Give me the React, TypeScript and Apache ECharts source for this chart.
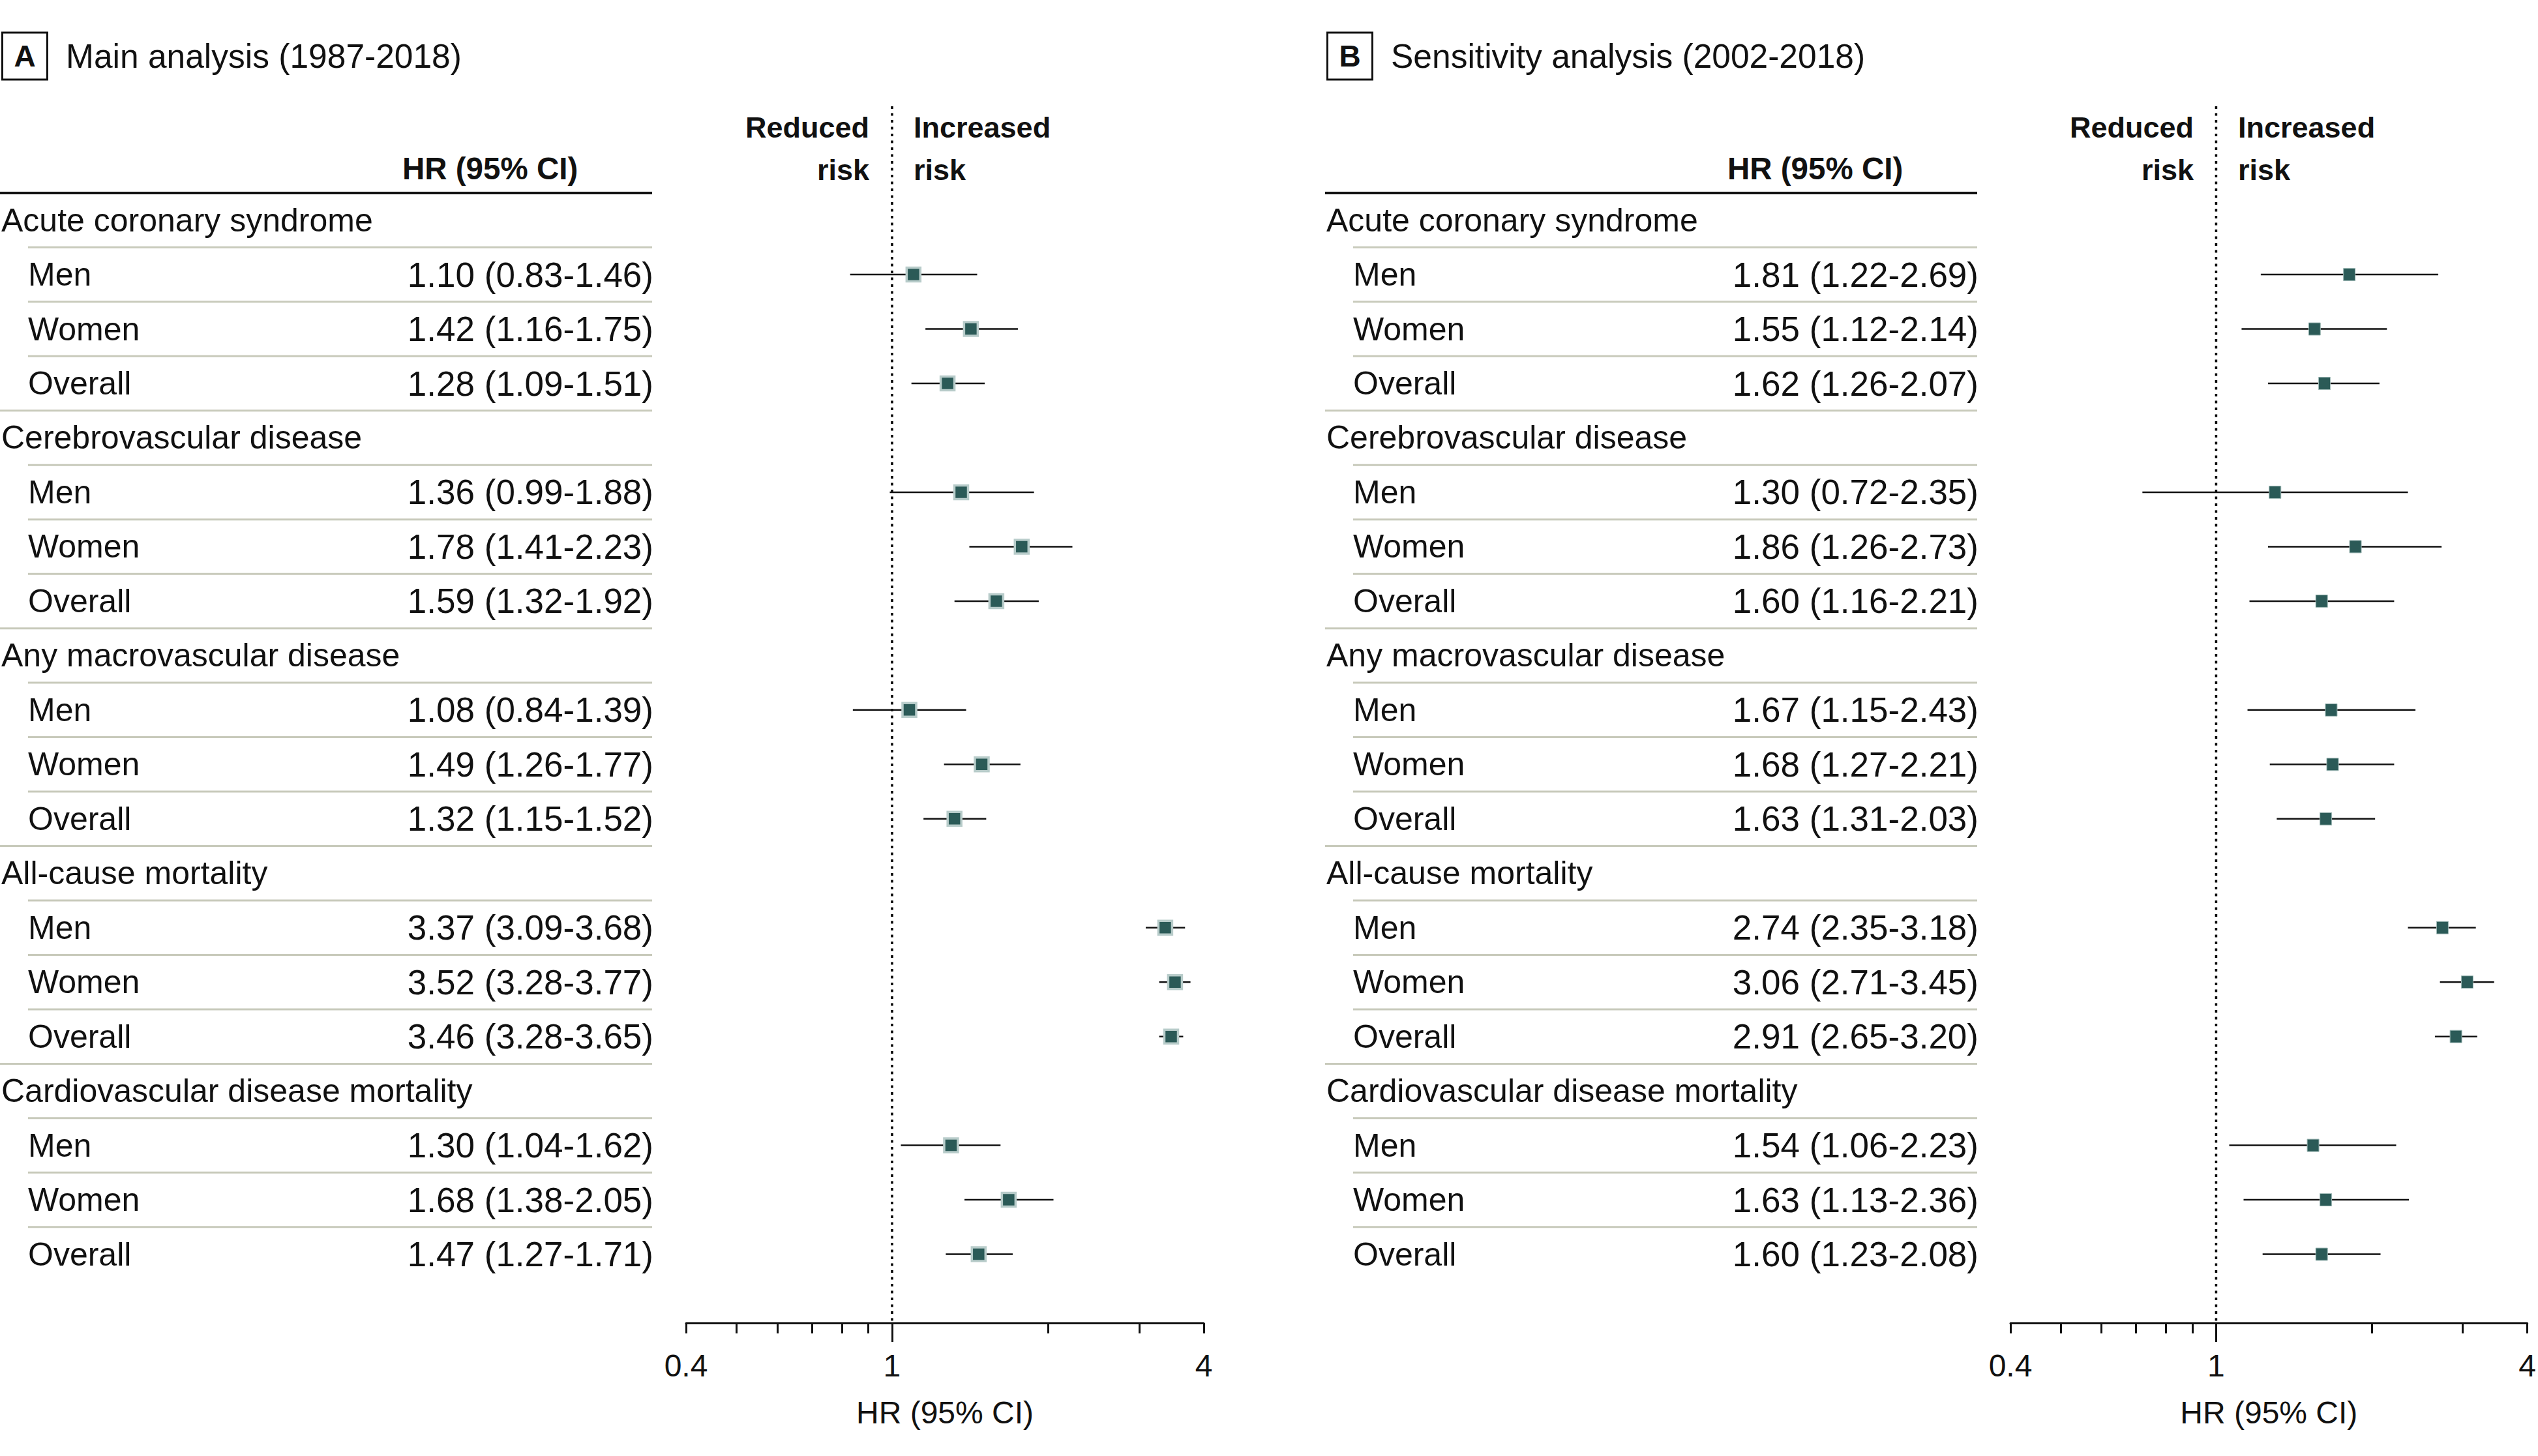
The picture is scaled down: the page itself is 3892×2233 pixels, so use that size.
import React, { useEffect, useRef } from "react";
import * as echarts from "echarts";

// ---------------- DATA ----------------
const groups = [
  "Acute coronary syndrome",
  "Cerebrovascular disease",
  "Any macrovascular disease",
  "All-cause mortality",
  "Cardiovascular disease mortality",
];
const subgroups = ["Men", "Women", "Overall"];

// Panel A: Main analysis (1987-2018)
const mainHR = [1.10, 1.42, 1.28, 1.36, 1.78, 1.59, 1.08, 1.49, 1.32, 3.37, 3.52, 3.46, 1.30, 1.68, 1.47];
const mainLow = [0.83, 1.16, 1.09, 0.99, 1.41, 1.32, 0.84, 1.26, 1.15, 3.09, 3.28, 3.28, 1.04, 1.38, 1.27];
const mainHigh = [1.46, 1.75, 1.51, 1.88, 2.23, 1.92, 1.39, 1.77, 1.52, 3.68, 3.77, 3.65, 1.62, 2.05, 1.71];

// Panel B: Sensitivity analysis (2002-2018)
const sensHR = [1.81, 1.55, 1.62, 1.30, 1.86, 1.60, 1.67, 1.68, 1.63, 2.74, 3.06, 2.91, 1.54, 1.63, 1.60];
const sensLow = [1.22, 1.12, 1.26, 0.72, 1.26, 1.16, 1.15, 1.27, 1.31, 2.35, 2.71, 2.65, 1.06, 1.13, 1.23];
const sensHigh = [2.69, 2.14, 2.07, 2.35, 2.73, 2.21, 2.43, 2.21, 2.03, 3.18, 3.45, 3.20, 2.23, 2.36, 2.08];

const tickValues = [0.4, 0.5, 0.6, 0.7, 0.8, 0.9, 1, 2, 3, 4];
const tickLabelValues = [0.4, 1, 4];
const referenceValues = [1];
const axisMin = 0.4;
const axisMax = 4;

const panelLetters = ["A", "B"];
const panelTitles = ["Main analysis (1987-2018)", "Sensitivity analysis (2002-2018)"];
const columnHeader = "HR (95% CI)";
const axisTitle = "HR (95% CI)";
const leftLabel = ["Reduced", "risk"];
const rightLabel = ["Increased", "risk"];

// ---------------- LAYOUT ----------------
const W = 3892;
const H = 2233;
const FONT = "'Liberation Sans', Arial, sans-serif";
const INK = "#111111";
const ROW0 = 337.6;
const PITCH = 83.47;
const GRID_TOP = 163;
const GRID_BOTTOM_Y = 2029;
const Y_MIN = (GRID_TOP - ROW0) / PITCH;
const Y_MAX = (GRID_BOTTOM_Y - ROW0) / PITCH;

const panels = [
  { tableX: 0, gridLeft: 1052, gridWidth: 794, hr: mainHR, lo: mainLow, hi: mainHigh, halo: true, refX: 1367 },
  { tableX: 2032, gridLeft: 3083, gridWidth: 795, hr: sensHR, lo: sensLow, hi: sensHigh, halo: false, refX: 3398 },
];

type Row = { idx: number; kind: "group" | "sub"; label: string; text?: string; sep: "indent" | "full" | "none" };

const fmt = (v: number) => v.toFixed(2);

function buildRows(hr: number[], lo: number[], hi: number[]): Row[] {
  const rows: Row[] = [];
  let idx = 0;
  groups.forEach((g, gi) => {
    rows.push({ idx: idx++, kind: "group", label: g, sep: "indent" });
    subgroups.forEach((s, si) => {
      const k = gi * subgroups.length + si;
      const last = si === subgroups.length - 1;
      rows.push({
        idx: idx++,
        kind: "sub",
        label: s,
        text: `${fmt(hr[k])} (${fmt(lo[k])}-${fmt(hi[k])})`,
        sep: last ? (gi === groups.length - 1 ? "none" : "full") : "indent",
      });
    });
  });
  return rows;
}

function buildOption() {
  const grid: any[] = [];
  const xAxis: any[] = [];
  const yAxis: any[] = [];
  const series: any[] = [];
  const graphic: any[] = [];

  panels.forEach((p, k) => {
    const rows = buildRows(p.hr, p.lo, p.hi);
    const subRows = rows.filter((r) => r.kind === "sub");
    const forestData = subRows.map((r, j) => [p.hr[j], p.lo[j], p.hi[j], r.idx]);

    grid.push({
      left: p.gridLeft,
      width: p.gridWidth,
      top: GRID_TOP,
      height: GRID_BOTTOM_Y - GRID_TOP,
      containLabel: false,
    });

    xAxis.push({
      type: "log",
      logBase: 10,
      gridIndex: k,
      min: axisMin,
      max: axisMax,
      position: "bottom",
      axisLine: { show: true, onZero: false, lineStyle: { color: INK, width: 3 } },
      axisTick: { show: true, customValues: tickValues, length: 16, lineStyle: { color: INK, width: 3 } },
      axisLabel: {
        show: true,
        customValues: tickLabelValues,
        margin: 41,
        fontSize: 48,
        fontFamily: FONT,
        color: INK,
        formatter: (v: number) => String(Math.round(v * 100) / 100),
      },
      splitLine: { show: false },
      minorTick: { show: false },
      name: axisTitle,
      nameLocation: "middle",
      nameGap: 113,
      nameTextStyle: { fontSize: 48, fontFamily: FONT, color: INK },
    });
    xAxis.push({
      type: "log",
      logBase: 10,
      gridIndex: k,
      min: axisMin,
      max: axisMax,
      position: "bottom",
      axisLine: { show: false, onZero: false },
      axisTick: { show: true, customValues: referenceValues, length: 29, lineStyle: { color: INK, width: 3 } },
      axisLabel: { show: false },
      splitLine: { show: false },
    });
    yAxis.push({ type: "value", gridIndex: k, min: Y_MIN, max: Y_MAX, inverse: true, show: false });

    const xi = k * 2;

    // reference (no-effect) dotted line
    series.push({
      type: "custom",
      xAxisIndex: xi,
      yAxisIndex: k,
      clip: false,
      silent: true,
      data: referenceValues.map((v) => [v]),
      renderItem: (params: any, api: any) => {
        const a = api.coord([api.value(0), Y_MIN]);
        const b = api.coord([api.value(0), Y_MAX]);
        return {
          type: "line",
          shape: { x1: a[0], y1: a[1], x2: b[0], y2: b[1] },
          style: { stroke: "#000000", lineWidth: 3.5, lineDash: [4, 6.5] },
        };
      },
    });

    // table rows
    series.push({
      type: "custom",
      xAxisIndex: xi,
      yAxisIndex: k,
      clip: false,
      silent: true,
      data: rows.map((r) => [1, r.idx]),
      renderItem: (params: any, api: any) => {
        const r = rows[params.dataIndex];
        const y = api.coord([1, api.value(1)])[1];
        const ySep = api.coord([1, api.value(1) + 0.5])[1];
        const x0 = p.tableX;
        const children: any[] = [];
        if (r.kind === "group") {
          children.push({
            type: "text",
            style: { text: r.label, x: x0 + 2, y, fill: INK, fontSize: 50, fontFamily: FONT, align: "left", verticalAlign: "middle" },
          });
        } else {
          children.push({
            type: "text",
            style: { text: r.label, x: x0 + 43, y, fill: INK, fontSize: 50, fontFamily: FONT, align: "left", verticalAlign: "middle" },
          });
          children.push({
            type: "text",
            style: { text: r.text, x: x0 + 1002, y, fill: INK, fontSize: 53, fontFamily: FONT, align: "right", verticalAlign: "middle" },
          });
        }
        if (r.sep !== "none") {
          children.push({
            type: "line",
            shape: { x1: r.sep === "full" ? x0 : x0 + 43, y1: ySep, x2: x0 + 1000, y2: ySep },
            style: { stroke: "#c8cabb", lineWidth: 3 },
          });
        }
        return { type: "group", children };
      },
    });

    // forest marks
    series.push({
      type: "custom",
      xAxisIndex: xi,
      yAxisIndex: k,
      clip: false,
      silent: true,
      encode: { x: [0, 1, 2], y: 3 },
      data: forestData,
      renderItem: (params: any, api: any) => {
        const row = api.value(3);
        const c = api.coord([api.value(0), row]);
        const l = api.coord([api.value(1), row]);
        const h = api.coord([api.value(2), row]);
        const box = p.halo
          ? { type: "rect", shape: { x: c[0] - 10.5, y: c[1] - 10.5, width: 21, height: 21 }, style: { fill: "#2b5a57", stroke: "#b8ccca", lineWidth: 3.5 } }
          : { type: "rect", shape: { x: c[0] - 9, y: c[1] - 9.5, width: 18, height: 19 }, style: { fill: "#2b5a57", stroke: "#9fb9b6", lineWidth: 1 } };
        return {
          type: "group",
          children: [
            { type: "line", shape: { x1: l[0], y1: l[1], x2: h[0], y2: h[1] }, style: { stroke: INK, lineWidth: 2.5 } },
            box,
          ],
        };
      },
    });

    // graphics: panel letter box, title, column header, header rule, risk labels
    const x0 = p.tableX;
    graphic.push({ type: "rect", shape: { x: x0 + 3.5, y: 50, width: 69, height: 72 }, style: { fill: "none", stroke: INK, lineWidth: 3 } });
    graphic.push({
      type: "text",
      x: x0 + 38,
      y: 86,
      style: { text: panelLetters[k], fill: INK, fontSize: 46, fontWeight: "bold", fontFamily: FONT, align: "center", verticalAlign: "middle" },
    });
    graphic.push({
      type: "text",
      x: x0 + 101,
      y: 86,
      style: { text: panelTitles[k], fill: INK, fontSize: 51.5, fontFamily: FONT, align: "left", verticalAlign: "middle" },
    });
    graphic.push({
      type: "text",
      x: x0 + 617,
      y: 258,
      style: { text: columnHeader, fill: INK, fontSize: 47.5, fontWeight: "bold", fontFamily: FONT, align: "left", verticalAlign: "middle" },
    });
    graphic.push({ type: "rect", shape: { x: x0, y: 294, width: 1000, height: 4 }, style: { fill: INK } });
    [195, 260].forEach((yy, li) => {
      graphic.push({
        type: "text",
        x: p.refX - 34,
        y: yy,
        style: { text: leftLabel[li], fill: INK, fontSize: 45, fontWeight: "bold", fontFamily: FONT, align: "right", verticalAlign: "middle" },
      });
      graphic.push({
        type: "text",
        x: p.refX + 34,
        y: yy,
        style: { text: rightLabel[li], fill: INK, fontSize: 45, fontWeight: "bold", fontFamily: FONT, align: "left", verticalAlign: "middle" },
      });
    });
  });

  return {
    animation: false,
    backgroundColor: "#ffffff",
    grid,
    xAxis,
    yAxis,
    series,
    graphic,
  };
}

export default function App() {
  const ref = useRef<HTMLDivElement>(null);
  useEffect(() => {
    document.body.style.margin = "0";
    const chart = echarts.init(ref.current as HTMLDivElement, null, { renderer: "svg", width: W, height: H });
    chart.setOption(buildOption() as any);
    return () => chart.dispose();
  }, []);
  return <div ref={ref} style={{ position: "absolute", left: 0, top: 0, width: W, height: H, background: "#fff" }} />;
}
